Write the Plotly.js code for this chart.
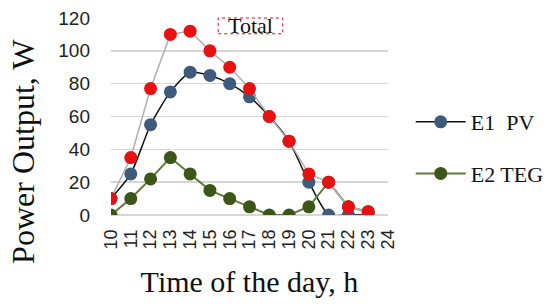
<!DOCTYPE html>
<html>
<head>
<meta charset="utf-8">
<script src="https://cdn.plot.ly/plotly-3.0.1.min.js"></script>
<style>
  body { margin: 0; background: white; }
  #chart { width: 550px; height: 308px; }
</style>
</head>
<body>
<div id="chart"></div>
<script>
// hours of the day
const hours = [10, 11, 12, 13, 14, 15, 16, 17, 18, 19, 20, 21, 22, 23]
const xTicks = [10, 11, 12, 13, 14, 15, 16, 17, 18, 19, 20, 21, 22, 23, 24]

// power output, W
const pvValues = [10, 25, 55, 75, 87, 85, 80, 72, 60, 45, 20, 0, 0, 0]
const tegValues = [0, 10, 22, 35, 25, 15, 10, 5, 0, 0, 5, 20, 5, 2]
const totalValues = [10, 35, 77, 110, 112, 100, 90, 77, 60, 45, 25, 20, 5, 2]

const seriesNames = ['E1  PV', 'E2 TEG', 'Total']

const serif = 'Liberation Serif, Times New Roman, serif'
const sans = 'Liberation Sans, Arial, sans-serif'

let pvTrace = {
  x: hours,
  y: pvValues,
  name: seriesNames[0],
  legendgroup: 'a',
  mode: 'lines+markers',
  line: { color: '#111111', width: 1.5, shape: 'spline', smoothing: 0.6 },
  marker: { color: '#3e5b7c', size: 13 }
}

let tegTrace = {
  x: hours,
  y: tegValues,
  name: seriesNames[1],
  legendgroup: 'b',
  mode: 'lines+markers',
  line: { color: '#5f7a3c', width: 2 },
  marker: { color: '#3b5618', size: 13 }
}

let totalTrace = {
  x: hours,
  y: totalValues,
  name: seriesNames[2],
  mode: 'lines+markers',
  line: { color: '#b0b0b0', width: 1.5 },
  marker: { color: '#e81010', size: 13 },
  showlegend: false
}

let layout = {
  width: 550,
  height: 308,
  margin: { l: 111, r: 162, t: 18, b: 93, autoexpand: false },
  paper_bgcolor: 'white',
  plot_bgcolor: 'white',
  showlegend: true,
  legend: {
    x: 1.082, y: 0.34, xanchor: 'left', yanchor: 'middle',
    font: { family: serif, size: 22, color: '#111' },
    traceorder: 'grouped',
    tracegroupgap: 20,
    itemwidth: 50
  },
  xaxis: {
    range: [10, 24],
    tickvals: xTicks,
    ticktext: xTicks.map(String),
    tickangle: -90,
    tickfont: { family: sans, size: 18, color: '#222' },
    ticklabelstandoff: 10,
    showgrid: false,
    zeroline: false,
    showline: false,
    ticks: '',
    title: { text: 'Time of the day, h', font: { family: serif, size: 30, color: '#111' }, standoff: 22 }
  },
  yaxis: {
    range: [0, 120],
    dtick: 20,
    tickfont: { family: sans, size: 19, color: '#222' },
    ticklabelstandoff: 20,
    gridcolor: '#d6d6d6',
    gridwidth: 1.5,
    zeroline: true,
    zerolinecolor: '#d6d6d6',
    zerolinewidth: 1.5,
    showline: false,
    ticks: ''
  },
  shapes: [{
    type: 'rect', xref: 'paper', yref: 'paper',
    x0: 0.387, x1: 0.62, y0: 0.92, y1: 1.0,
    line: { color: '#d01020', width: 1, dash: 'dot' }
  }],
  annotations: [{
    xref: 'paper', yref: 'paper',
    x: 0.503, y: 0.96, yanchor: 'middle',
    text: 'Total',
    showarrow: false,
    font: { family: serif, size: 22, color: '#111' }
  }, {
    // y axis title, sits lower than the plot centre as in the original
    xref: 'paper', yref: 'paper',
    x: -0.318, y: 0.325, xanchor: 'center', yanchor: 'middle',
    textangle: -90,
    text: 'Power Output, W',
    showarrow: false,
    font: { family: serif, size: 32, color: '#111' }
  }]
}

Plotly.newPlot('chart', [pvTrace, tegTrace, totalTrace], layout, { displayModeBar: false, staticPlot: true })
</script>
</body>
</html>
